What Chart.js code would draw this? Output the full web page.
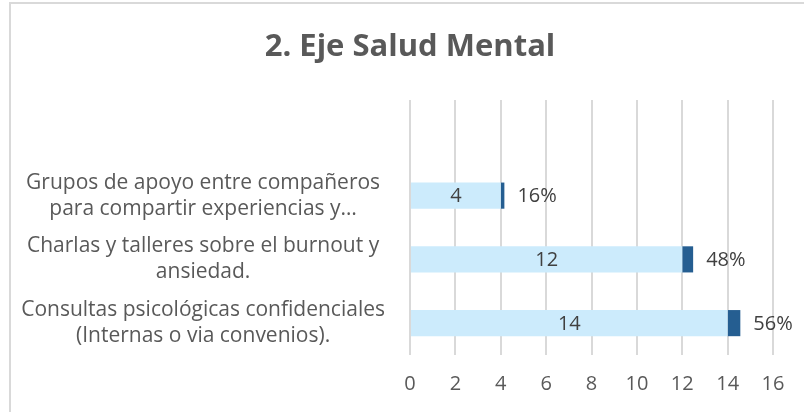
<!DOCTYPE html>
<html>
<head>
<meta charset="utf-8">
<script src="https://cdn.jsdelivr.net/npm/chart.js@4.4.1/dist/chart.umd.min.js"></script>
<style>
  html, body { margin: 0; padding: 0; background: #fff; overflow: hidden; }
  #wrap { position: relative; width: 804px; height: 412px; }
  #frame { position: absolute; left: 9px; top: 2px; width: 820px; height: 430px; border: 2px solid #d9d9d9; box-sizing: border-box; }
  canvas { position: absolute; left: 0; top: 0; }
</style>
</head>
<body>
<div id="wrap">
  <div id="frame"></div>
  <canvas id="c" width="804" height="412"></canvas>
</div>
<script>
// data (top to bottom, first row is the empty slot Excel leaves)
const categories = [
  '',
  ['Grupos de apoyo entre compañeros', 'para compartir experiencias y…'],
  ['Charlas y talleres sobre el burnout y', 'ansiedad.'],
  ['Consultas psicológicas confidenciales', '(Internas o via convenios).']
];
const counts = [null, 4, 12, 14];
const shares = [null, 0.16, 0.48, 0.56];
const xTicks = [0, 2, 4, 6, 8, 10, 12, 14, 16];
const chartTitle = '2. Eje Salud Mental';

const FONT = '"Open Sans", Lato, sans-serif';

// title centred on the outer frame rather than the canvas
const frameTitle = {
  id: 'frameTitle',
  afterDraw(chart) {
    const ctx = chart.ctx;
    ctx.save();
    ctx.font = 'bold 31px ' + FONT;
    ctx.fillStyle = '#595959';
    ctx.textAlign = 'center';
    ctx.textBaseline = 'middle';
    ctx.fillText(chartTitle, 410, 47);
    ctx.restore();
  }
};

// value labels: count inside the light bar, percent right of the dark bar
const barLabels = {
  id: 'barLabels',
  afterDatasetsDraw(chart) {
    const ctx = chart.ctx;
    ctx.save();
    ctx.font = '20px ' + FONT;
    ctx.fillStyle = '#404040';
    ctx.textBaseline = 'middle';
    const m0 = chart.getDatasetMeta(0), m1 = chart.getDatasetMeta(1);
    m0.data.forEach((el, i) => {
      if (counts[i] == null) return;
      ctx.textAlign = 'center';
      ctx.fillText(String(counts[i]), (el.x + el.base) / 2, el.y + 1);
    });
    m1.data.forEach((el, i) => {
      if (shares[i] == null) return;
      ctx.textAlign = 'left';
      ctx.fillText(Math.round(shares[i] * 100) + '%', el.x + 13, el.y + 1);
    });
    ctx.restore();
  }
};

new Chart(document.getElementById('c'), {
  type: 'bar',
  data: {
    labels: categories,
    datasets: [
      { label: 'Cantidad', data: counts, backgroundColor: '#CCEBFC', borderWidth: 0 },
      { label: 'Porcentaje', data: shares, backgroundColor: '#255E91', borderWidth: 0 }
    ]
  },
  options: {
    indexAxis: 'y',
    responsive: false,
    animation: false,
    events: [],
    datasets: { bar: { categoryPercentage: 1, barPercentage: 0.41 } },
    layout: { padding: { left: 0, right: 31, top: 100, bottom: 0 } },
    plugins: {
      legend: { display: false },
      tooltip: { enabled: false },
      title: { display: false }
    },
    scales: {
      x: {
        stacked: true,
        min: 0, max: 16,
        afterBuildTicks: (axis) => { axis.ticks = xTicks.map(v => ({ value: v })); },
        grid: { color: '#d9d9d9', lineWidth: 2, drawTicks: false },
        border: { display: false },
        ticks: { color: '#595959', font: { family: FONT, size: 20 }, padding: 17 },
        afterFit: (axis) => { axis.height = 57; }
      },
      y: {
        stacked: true,
        grid: { display: false },
        border: { display: false },
        ticks: {
          color: '#595959',
          crossAlign: 'center',
          padding: 17,
          autoSkip: false,
          font: { family: FONT, size: 21, lineHeight: 1.24 }
        },
        afterFit: (axis) => { axis.width = 410; }
      }
    }
  },
  plugins: [barLabels, frameTitle]
});
</script>
</body>
</html>
